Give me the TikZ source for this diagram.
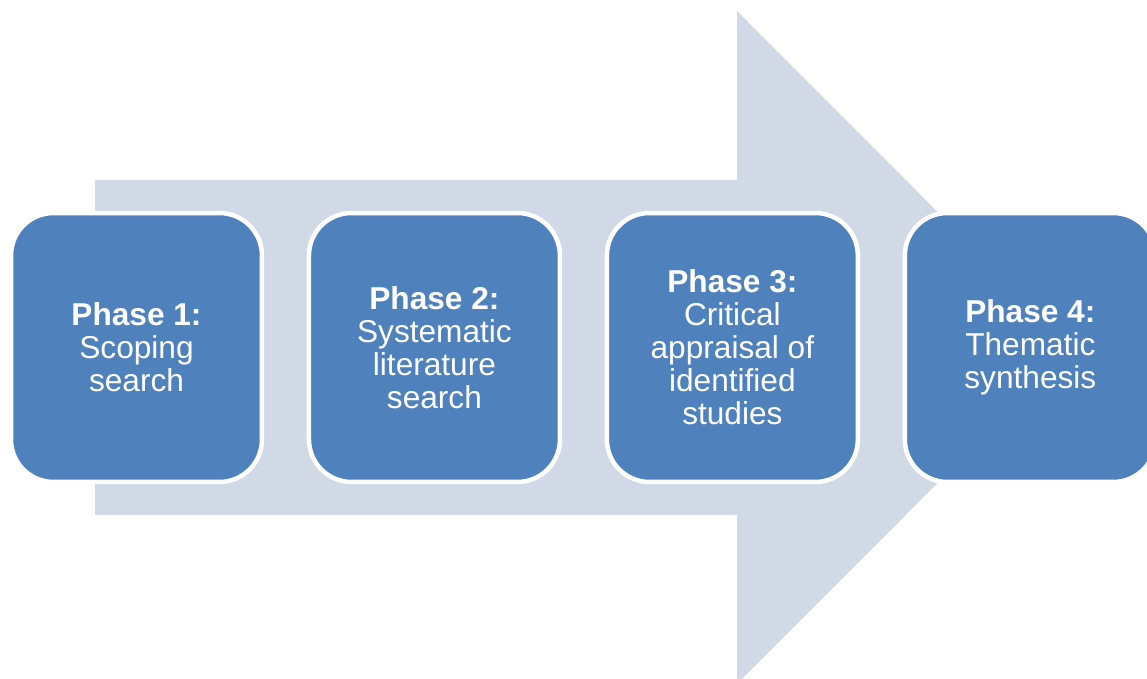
\documentclass[tikz,border=0pt]{standalone}
\usepackage{fontspec}
\setmainfont{Liberation Sans}
\definecolor{phaseblue}{HTML}{4F81BD}
\definecolor{arrowgrey}{HTML}{D1D9E7}
\begin{document}
\begin{tikzpicture}[x=0.02cm, y=0.02cm, node distance=5.96cm]
\tikzstyle{phase} = [rectangle, rounded corners=0.85cm, minimum width=5.02cm, minimum height=5.38cm, align=center, fill=phaseblue, draw=white, line width=0.09cm, text=white, font=\fontsize{18}{18.8}\selectfont]
\tikzstyle{bigarrow} = [fill=arrowgrey, draw=none]
%
\useasboundingbox (0,0) rectangle (1147,679);
\clip (0,0) rectangle (1147,679);
\fill [bigarrow] (95,164) -- (737,164) -- (737,-5) -- (1073,331.5) -- (737,668) -- (737,499) -- (95,499) -- cycle;
%
\node (phase1) [phase] at (136.5,331.5) {\textbf{Phase 1:}\\Scoping\\search};
\node (phase2) [phase, right of=phase1] {\textbf{Phase 2:}\\Systematic\\literature\\search};
\node (phase3) [phase, right of=phase2] {\textbf{Phase 3:}\\Critical\\appraisal of\\identified\\studies};
\node (phase4) [phase, right of=phase3] {\textbf{Phase 4:}\\Thematic\\synthesis};
\end{tikzpicture}
\end{document}
